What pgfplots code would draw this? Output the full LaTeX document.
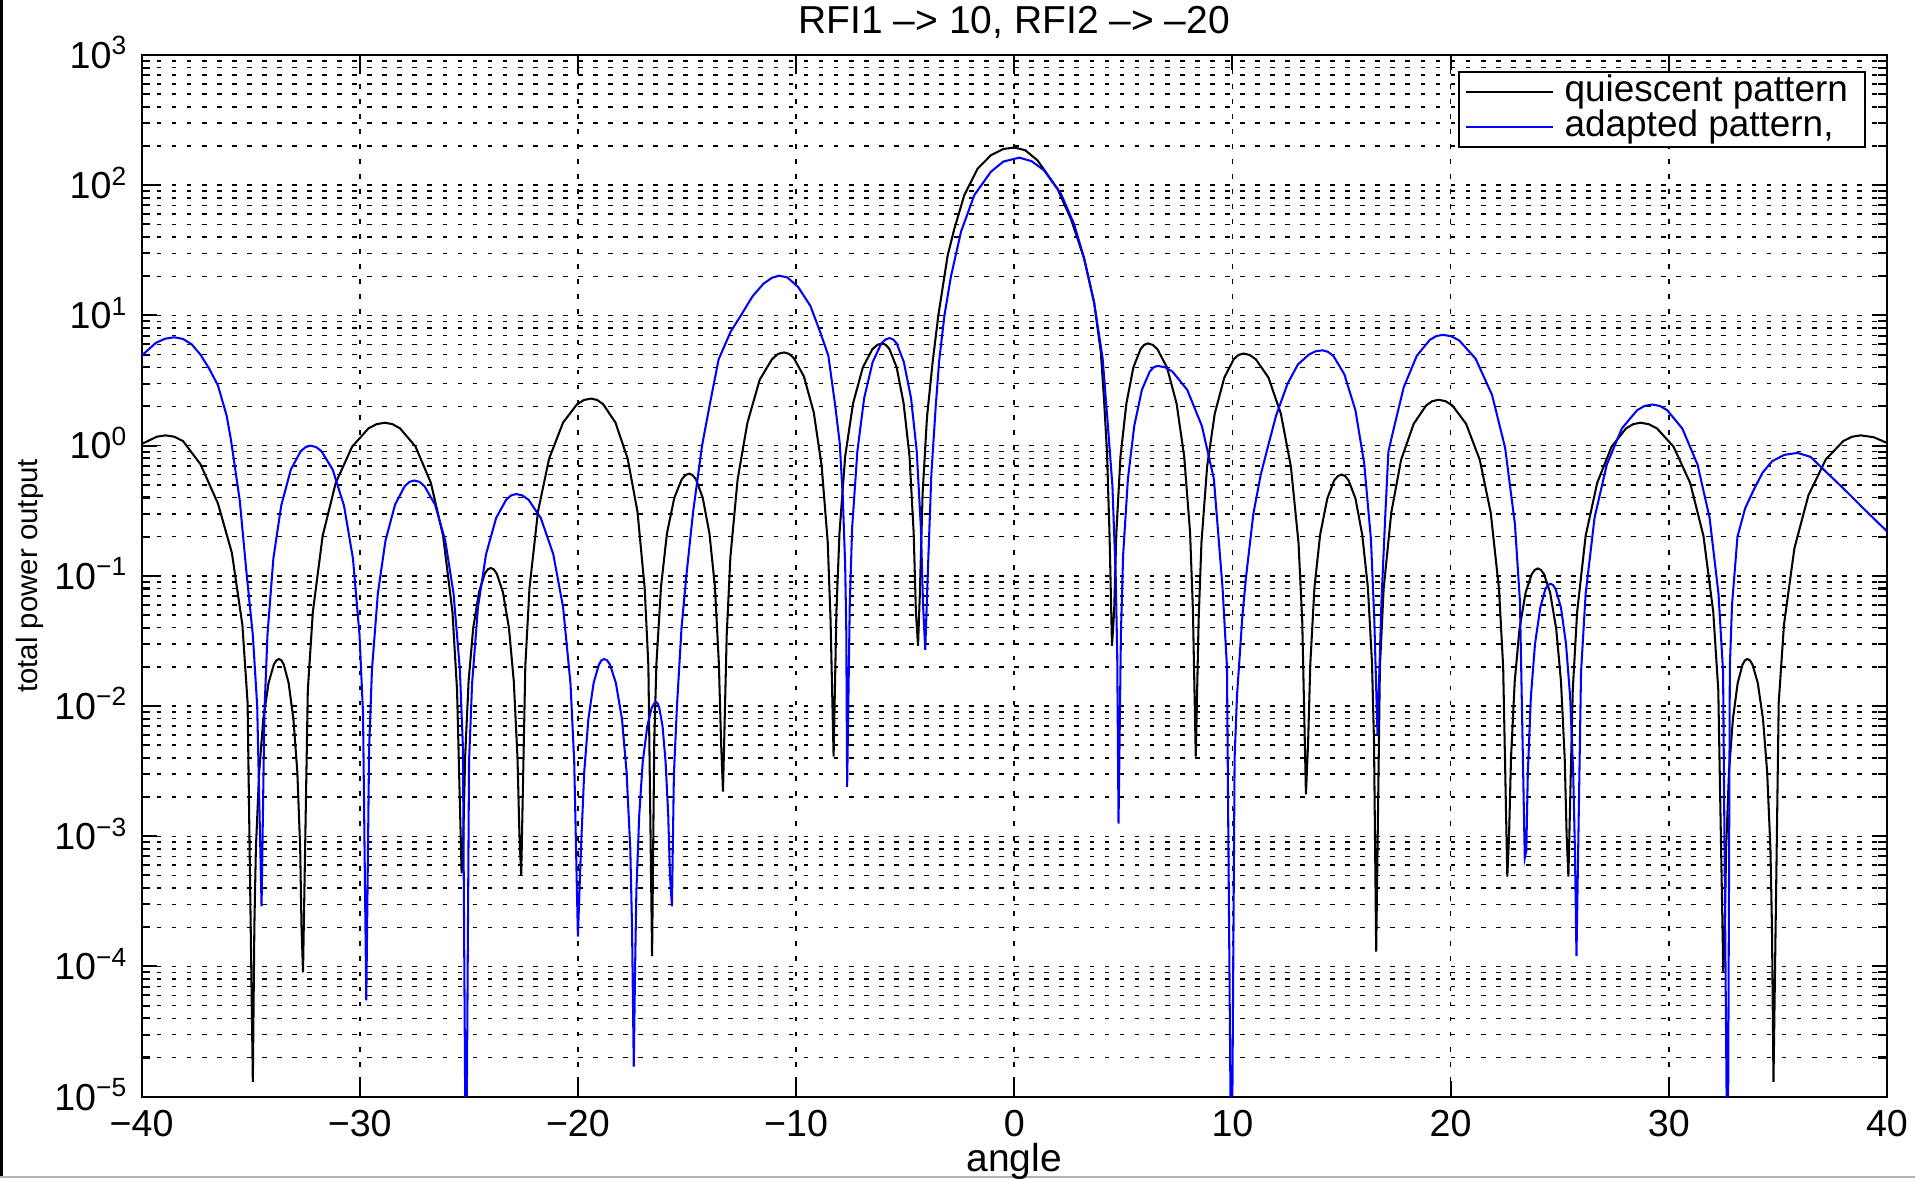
\documentclass[border=0pt]{standalone}
\usepackage{fontspec}
\setmainfont{Liberation Sans}
\usepackage{pgfplots}
\pgfplotsset{compat=1.18}
\definecolor{mblue}{rgb}{0,0,1}
\begin{document}
\begin{tikzpicture}[font=\fontsize{11.4}{13}\selectfont]
\path[use as bounding box] (-41.4pt,-23.9pt) rectangle (518.6pt,320.7pt);
\draw[black, line width=0.8pt] (-41.0pt,-23.9pt) -- (-41.0pt,320.7pt);
\draw[black!30, line width=0.8pt] (-41.4pt,-23.5pt) -- (518.6pt,-23.5pt);
\begin{axis}[
  at={(0pt,0pt)}, anchor=south west,
  scale only axis, width=510.4pt, height=304.6pt,
  xmin=-40, xmax=40, ymin=1e-5, ymax=1e3,
  ymode=log,
  xtick={-40,-30,-20,-10,0,10,20,30,40},
  xticklabels={−40,−30,−20,−10,0,10,20,30,40},
  ytick={1e-5,1e-4,1e-3,1e-2,1e-1,1,1e1,1e2,1e3},
  yticklabels={10\textsuperscript{−5},10\textsuperscript{−4},10\textsuperscript{−3},10\textsuperscript{−2},10\textsuperscript{−1},10\textsuperscript{0},10\textsuperscript{1},10\textsuperscript{2},10\textsuperscript{3}},
  minor ytick={2e-5,3e-5,4e-5,5e-5,6e-5,7e-5,8e-5,9e-5,
               2e-4,3e-4,4e-4,5e-4,6e-4,7e-4,8e-4,9e-4,
               2e-3,3e-3,4e-3,5e-3,6e-3,7e-3,8e-3,9e-3,
               2e-2,3e-2,4e-2,5e-2,6e-2,7e-2,8e-2,9e-2,
               0.2,0.3,0.4,0.5,0.6,0.7,0.8,0.9,
               2,3,4,5,6,7,8,9,
               20,30,40,50,60,70,80,90,
               200,300,400,500,600,700,800,900},
  tick align=inside,
  major tick length=4.5pt, minor tick length=2.5pt,
  xmajorgrids, ymajorgrids, yminorgrids,
  major grid style={black, line width=0.45pt, dash pattern=on 1.4pt off 3pt},
  minor grid style={black, line width=0.45pt, dash pattern=on 1.4pt off 3pt},
  axis line style={black, line width=0.6pt},
  every tick/.style={black, line width=0.6pt},
  xticklabel style={font=\fontsize{11}{12}\selectfont, inner ysep=0pt, yshift=-3.7pt},
  yticklabel style={font=\fontsize{11}{12}\selectfont, anchor=base east, inner ysep=0pt, inner xsep=3.8pt, yshift=-3.9pt},
  title={RFI1 –> 10, RFI2 –> –20},
  title style={at={(axis description cs:0.5,1.012)}, anchor=center, inner sep=0pt},
  xlabel={angle},
  xlabel style={at={(axis description cs:0.5,-0.062)}, anchor=center, inner sep=0pt},
  ylabel={total power output},
  ylabel style={at={(axis description cs:-0.0637,0.5)}, anchor=center, inner sep=0pt, font=\fontsize{8.6}{10}\selectfont},
  legend style={at={(axis description cs:1,1)}, anchor=north east, xshift=-6.1pt, yshift=-4.6pt,
    draw=black, line width=0.6pt, fill=white, inner xsep=2pt, inner ysep=1pt,
    nodes={inner xsep=3pt, inner ysep=0.2pt, text height=7.6pt, text depth=2.0pt, font=\fontsize{10.8}{12}\selectfont},
    row sep=0pt},
  legend cell align=left,
  legend image code/.code={\draw[#1] (0pt,0pt) -- (20pt,0pt); \path (-2pt,0pt) -- (23.4pt,0pt);},
]
\addplot[black, line width=0.6pt] coordinates {
(-40,1.03) (-39.71,1.085) (-39.31,1.171) (-38.9,1.2) (-38.5,1.171) (-38.1,1.085) (-37.3,0.72) (-36.5,0.36) (-35.86,0.15) (-35.38,0.0421) (-35.14,0.0106) (-34.9,1.3e-5)
(-34.83,2.04e-4) (-34.76,8.07e-4) (-34.61,3.12e-3) (-34.42,7.95e-3) (-34.18,0.01505) (-33.94,0.0208) (-33.82,0.02244) (-33.7,0.023) (-33.59,0.02244) (-33.48,0.0208) (-33.26,0.01505) (-33.04,7.95e-3) (-32.86,3.12e-3) (-32.73,8.07e-4) (-32.67,2.04e-4) (-32.6,9e-5)
(-32.38,0.0133) (-32.15,0.0527) (-31.7,0.203) (-31.1,0.518) (-30.35,0.982) (-29.6,1.357) (-29.23,1.463) (-28.85,1.5) (-28.5,1.463) (-28.15,1.357) (-27.44,0.982) (-26.74,0.518) (-26.18,0.203) (-25.75,0.0527) (-25.54,0.0133) (-25.33,5.2e-4)
(-25.25,1.02e-3) (-25.17,4.04e-3) (-25.01,0.0156) (-24.80,0.0397) (-24.53,0.0753) (-24.27,0.104) (-24.13,0.1122) (-24.0,0.115) (-23.86,0.1122) (-23.72,0.104) (-23.44,0.0753) (-23.16,0.0397) (-22.94,0.0156) (-22.77,4.04e-3) (-22.68,1.02e-3) (-22.6,5e-4)
(-22.41,0.0204) (-22.22,0.0807) (-21.83,0.312) (-21.32,0.795) (-20.68,1.505) (-20.04,2.08) (-19.72,2.244) (-19.4,2.3) (-19.12,2.244) (-18.84,2.08) (-18.28,1.505) (-17.72,0.795) (-17.27,0.312) (-16.94,0.0807) (-16.77,0.0204) (-16.6,1.2e-4)
(-16.50,5.4e-3) (-16.40,0.0214) (-16.19,0.0827) (-15.92,0.211) (-15.58,0.399) (-15.24,0.552) (-15.07,0.595) (-14.9,0.61) (-14.75,0.595) (-14.59,0.552) (-14.28,0.399) (-13.97,0.211) (-13.72,0.0827) (-13.54,0.0214) (-13.44,5.4e-3) (-13.35,2.2e-3)
(-13.18,0.035) (-13.01,0.14) (-12.68,0.55) (-12.23,1.5) (-11.67,3.2) (-11.11,4.6) (-10.83,5.07) (-10.55,5.2) (-10.32,5.07) (-10.10,4.7) (-9.64,3.4) (-9.19,1.8) (-8.83,0.705) (-8.55,0.1825) (-8.42,0.0461) (-8.28,4.1e-3)
(-8.15,0.054) (-8.01,0.214) (-7.75,0.827) (-7.39,2.108) (-6.94,3.992) (-6.50,5.517) (-6.27,5.951) (-6.05,6.1) (-5.89,5.951) (-5.72,5.517) (-5.39,3.992) (-5.07,2.108) (-4.80,0.827) (-4.61,0.214) (-4.51,0.054) (-4.41,0.029)
(-4.33,0.07) (-4.2,0.43) (-4.0,1.65) (-3.74,4.4) (-3.48,10) (-3.05,29) (-2.75,46) (-2.29,84) (-1.68,134) (-1.07,170) (-0.5,190) (0,195) (0.5,186) (1.07,155) (1.98,94) (2.6,55) (3.2,27.5) (3.66,12.6) (3.97,5.2) (4.12,2.2) (4.25,0.9) (4.37,0.2) (4.48,0.029)
(4.58,0.054) (4.68,0.214) (4.87,0.827) (5.14,2.108) (5.46,3.992) (5.79,5.517) (5.96,5.951) (6.12,6.1) (6.34,5.951) (6.56,5.517) (7.0,3.992) (7.44,2.108) (7.79,0.827) (8.06,0.214) (8.19,0.054) (8.32,4.1e-3)
(8.45,0.0452) (8.58,0.179) (8.84,0.691) (9.19,1.762) (9.63,3.338) (10.06,4.613) (10.28,4.975) (10.5,5.1) (10.79,4.975) (11.07,4.613) (11.65,3.338) (12.22,1.762) (12.68,0.691) (13.03,0.179) (13.20,0.0452) (13.37,2.1e-3)
(13.47,5.3e-3) (13.57,0.0211) (13.76,0.0813) (14.02,0.207) (14.35,0.393) (14.67,0.543) (14.84,0.585) (15.0,0.6) (15.16,0.585) (15.32,0.543) (15.64,0.393) (15.95,0.207) (16.21,0.0813) (16.40,0.0211) (16.49,5.3e-3) (16.59,1.3e-4)
(16.76,0.0199) (16.93,0.079) (17.28,0.305) (17.73,0.777) (18.31,1.473) (18.88,2.035) (19.16,2.195) (19.45,2.25) (19.77,2.195) (20.08,2.035) (20.71,1.473) (21.34,0.777) (21.84,0.305) (22.22,0.079) (22.41,0.0199) (22.6,4.9e-4)
(22.68,1.01e-3) (22.77,4.0e-3) (22.94,0.01545) (23.16,0.0394) (23.44,0.0746) (23.72,0.1031) (23.86,0.1112) (24.0,0.114) (24.14,0.1112) (24.28,0.1031) (24.56,0.0746) (24.84,0.0394) (25.06,0.01545) (25.23,4.0e-3) (25.32,1.01e-3) (25.4,4.9e-4)
(25.60,0.0133) (25.80,0.0527) (26.19,0.203) (26.72,0.518) (27.38,0.982) (28.04,1.357) (28.37,1.463) (28.7,1.5) (29.08,1.463) (29.46,1.357) (30.22,0.982) (30.98,0.518) (31.59,0.203) (32.04,0.0527) (32.27,0.0133) (32.5,9e-5)
(32.57,2.04e-4) (32.63,8.07e-4) (32.76,3.12e-3) (32.94,7.95e-3) (33.16,0.01505) (33.38,0.0208) (33.49,0.02244) (33.6,0.023) (33.72,0.02244) (33.84,0.0208) (34.08,0.01505) (34.32,7.95e-3) (34.51,3.12e-3) (34.66,8.07e-4) (34.73,2.04e-4) (34.8,1.3e-5)
(35.04,0.0106) (35.28,0.0421) (35.76,0.163) (36.4,0.415) (37.2,0.785) (38.0,1.085) (38.4,1.171) (38.8,1.2) (39.4,1.16) (40,1.05)
};
\addlegendentry{quiescent pattern}
\addplot[mblue, line width=0.6pt] coordinates {
(-40,4.9) (-39.35,6.15) (-38.92,6.63) (-38.5,6.8) (-38.1,6.6) (-37.7,6.0) (-37.3,5.0) (-36.9,3.9) (-36.5,2.9) (-36.1,1.7) (-35.9,1.1) (-35.5,0.38) (-35.2,0.11) (-34.9,0.035) (-34.7,0.01) (-34.5,2.9e-4)
(-34.37,8.86e-3) (-34.23,0.0351) (-33.96,0.1355) (-33.60,0.3455) (-33.16,0.6545) (-32.71,0.9045) (-32.48,0.9755) (-32.26,1.0) (-32.0,0.9755) (-31.75,0.9045) (-31.24,0.6545) (-30.72,0.3455) (-30.31,0.1355) (-30.01,0.0351) (-29.85,8.86e-3) (-29.7,5.5e-5)
(-29.57,4.78e-3) (-29.44,0.019) (-29.17,0.0732) (-28.82,0.1866) (-28.38,0.353) (-27.94,0.488) (-27.72,0.527) (-27.5,0.54) (-27.26,0.527) (-27.03,0.488) (-26.55,0.353) (-26.08,0.1866) (-25.70,0.0732) (-25.41,0.019) (-25.27,4.78e-3) (-25.13,1e-6)
(-24.99,3.77e-3) (-24.85,0.0149) (-24.58,0.0576) (-24.21,0.1468) (-23.75,0.278) (-23.29,0.384) (-23.06,0.415) (-22.83,0.425) (-22.55,0.415) (-22.26,0.384) (-21.70,0.278) (-21.13,0.1468) (-20.68,0.0576) (-20.34,0.0149) (-20.17,3.77e-3) (-20.0,1.7e-4)
(-19.86,8.07e-4) (-19.71,3.12e-3) (-19.52,7.95e-3) (-19.28,0.01505) (-19.04,0.0208) (-18.92,0.02244) (-18.8,0.023) (-18.66,0.02244) (-18.53,0.0208) (-18.26,0.01505) (-17.98,7.95e-3) (-17.77,3.12e-3) (-17.60,8.07e-4) (-17.52,2.04e-4) (-17.44,1.7e-5)
(-17.38,9.5e-5) (-17.32,3.76e-4) (-17.19,1.45e-3) (-17.03,3.70e-3) (-16.82,7.0e-3) (-16.62,9.68e-3) (-16.51,0.01044) (-16.41,0.0107) (-16.34,0.01044) (-16.27,9.68e-3) (-16.12,7.0e-3) (-15.98,3.70e-3) (-15.86,1.45e-3) (-15.78,5e-4) (-15.69,2.9e-4)
(-15.6,0.003) (-15.46,0.01) (-15.25,0.04) (-15.03,0.1) (-14.72,0.31) (-14.31,1.0) (-13.96,2.05) (-13.55,4.6) (-13.0,7.5) (-12.53,10) (-12.0,14) (-11.5,17.5) (-11.1,19.5) (-10.78,20.2) (-10.4,19.6) (-9.9,16.5) (-9.34,11.8) (-8.9,7.5) (-8.52,4.9) (-8.21,2.05) (-8.0,1.05) (-7.86,0.41) (-7.75,0.12) (-7.7,0.04) (-7.66,2.4e-3)
(-7.54,0.0594) (-7.43,0.235) (-7.19,0.908) (-6.88,2.315) (-6.49,4.385) (-6.10,6.06) (-5.91,6.536) (-5.71,6.7) (-5.55,6.536) (-5.38,6.06) (-5.06,4.385) (-4.73,2.315) (-4.47,0.908) (-4.28,0.235) (-4.18,0.0594) (-4.08,0.027)
(-3.95,0.12) (-3.8,0.6) (-3.6,2.0) (-3.44,4.5) (-3.2,10) (-2.9,20) (-2.44,44) (-1.83,84) (-1.07,127) (-0.5,152) (0.23,163) (0.8,153) (1.37,130) (2.14,86) (2.75,50) (3.2,27.5) (3.66,12.6) (4.05,4.7) (4.27,1.6) (4.5,0.49) (4.65,0.1) (4.72,0.025) (4.78,1.25e-3)
(4.89,0.0363) (4.99,0.144) (5.21,0.556) (5.50,1.417) (5.85,2.683) (6.21,3.708) (6.39,4.0) (6.57,4.1) (6.91,4.0) (7.25,3.708) (7.93,2.683) (8.60,1.417) (9.15,0.556) (9.55,0.08) (9.75,0.02) (9.96,1e-6)
(10.1,0.004) (10.21,0.012) (10.46,0.05) (10.63,0.1) (10.96,0.3) (11.3,0.6) (11.64,1.0) (12.0,1.7) (12.53,3.0) (13.0,4.2) (13.5,5.0) (13.8,5.3) (14.12,5.4) (14.37,5.268) (14.63,4.884) (15.13,3.534) (15.64,1.866) (16.04,0.732) (16.35,0.19) (16.50,0.0478) (16.65,6e-3)
(16.83,0.0629) (17.01,0.3) (17.15,0.9) (17.37,1.3) (17.85,2.8) (18.45,4.9) (19.05,6.5) (19.35,6.95) (19.65,7.1) (20.03,6.926) (20.4,6.422) (21.15,4.647) (21.9,2.453) (22.5,0.962) (22.95,0.249) (23.18,0.0629) (23.4,6.8e-4)
(23.47,7.7e-4) (23.54,3.05e-3) (23.68,0.01179) (23.87,0.03006) (24.11,0.05694) (24.34,0.0787) (24.46,0.08487) (24.58,0.087) (24.70,0.08487) (24.82,0.0787) (25.06,0.05694) (25.29,0.03006) (25.48,0.01179) (25.62,3.05e-3) (25.70,7.7e-4) (25.77,1.2e-4)
(25.98,0.01834) (26.19,0.0727) (26.60,0.2805) (27.16,0.7152) (27.85,1.355) (28.55,1.872) (28.89,2.019) (29.24,2.07) (29.59,2.019) (29.93,1.872) (30.62,1.355) (31.32,0.7152) (31.87,0.2805) (32.28,0.0727) (32.49,0.01834) (32.7,1e-6)
(32.8,0.02) (32.9,0.06) (33.15,0.2) (33.5,0.33) (33.9,0.46) (34.3,0.62) (34.74,0.76) (35.3,0.85) (35.9,0.88) (36.5,0.82) (37.0,0.68) (38.0,0.47) (39.0,0.32) (40.0,0.22)
};
\addlegendentry{adapted pattern,}
\end{axis}
\end{tikzpicture}
\end{document}
